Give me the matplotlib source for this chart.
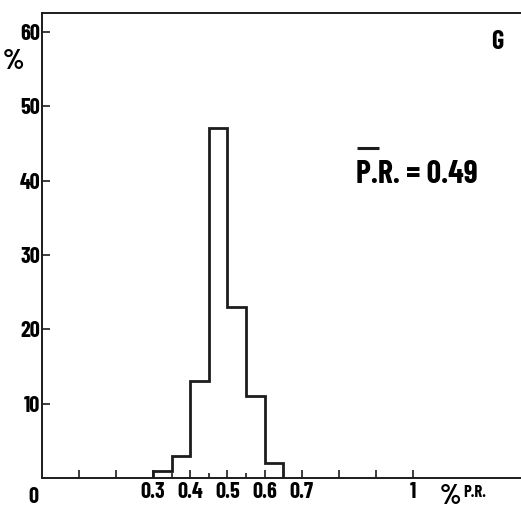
import matplotlib.pyplot as plt

# histogram of P.R. values, class width 0.05
bin_edges = [0.30, 0.35, 0.40, 0.45, 0.50, 0.55, 0.60, 0.65]
percent = [1, 3, 13, 47, 23, 11, 2]

x_major = [0.1, 0.2, 0.3, 0.4, 0.5, 0.6, 0.7, 0.8, 0.9, 1.0]
x_labels = ['', '', '0.3', '0.4', '0.5', '0.6', '0.7', '', '', '1']
x_minor = [0.35, 0.45, 0.55]
y_ticks = [10, 20, 30, 40, 50, 60]

font = ['Barlow Condensed', 'DejaVu Sans']
ink = '#1c1c1c'

fig = plt.figure(figsize=(5.21, 5.08), dpi=100)
ax = fig.add_axes([0.080, 0.059, 0.920, 0.915])

ax.stairs(percent, bin_edges, baseline=0, color=ink, linewidth=2.0)

ax.set_xlim(0, 1.29)
ax.set_ylim(0, 62.5)

for side in ['left', 'bottom', 'top']:
    ax.spines[side].set_linewidth(1.4)
    ax.spines[side].set_color(ink)
ax.spines['right'].set_visible(False)

ax.set_xticks(x_major)
ax.set_xticklabels(x_labels)
ax.set_xticks(x_minor, minor=True)
ax.set_yticks(y_ticks)
ax.tick_params(axis='both', which='major', direction='in', length=6, width=1.2,
               color=ink, labelsize=16, pad=3)
ax.tick_params(axis='x', which='minor', direction='in', length=3.5, width=1.2, color=ink)
ax.tick_params(axis='y', pad=1)
for lab in ax.get_xticklabels() + ax.get_yticklabels():
    lab.set_family(font)
    lab.set_fontweight('bold')

# origin label and axis titles
ax.text(-0.022, -1.2, '0', ha='center', va='top', fontsize=16, fontweight='bold', family=font)
ax.text(-0.075, 56.0, '%', ha='center', va='center', fontsize=20, fontweight='bold', family=font)
ax.text(1.1, -0.8, '%', ha='center', va='top', fontsize=20, fontweight='bold', family=font)
ax.text(1.135, -0.9, 'P.R.', ha='left', va='top', fontsize=12, fontweight='bold', family=font)

ax.text(1.225, 58.6, 'G', ha='center', va='center', fontsize=19, fontweight='bold', family=font)
ax.text(0.845, 40.8, 'P.R. = 0.49', ha='left', va='center', fontsize=23, fontweight='bold', family=font)
# bar over the P.R.
ax.plot([0.849, 0.909], [44.4, 44.4], color=ink, linewidth=2.2, solid_capstyle='butt')

fig.savefig('out.png', dpi=100)
